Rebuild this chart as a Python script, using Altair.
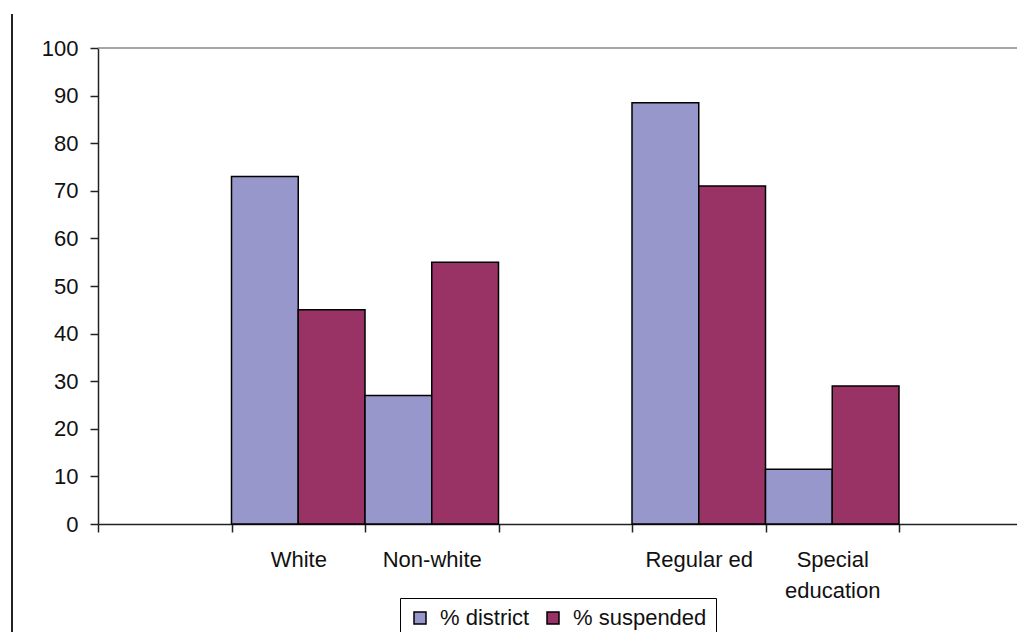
import altair as alt
import pandas as pd

# ---- data ----
categories = ["White", "Non-white", "Regular ed", "Special education"]
pct_district = [73, 27, 88.5, 11.5]
pct_suspended = [45, 55, 71, 29]
axis_domain = ["_gap1", "White", "Non-white", "_gap2", "Regular ed", "Special education", "_gap3"]
series = ["% district", "% suspended"]
colors = ["#9797CB", "#993366"]
y_ticks = list(range(0, 101, 10))

rows = []
for c, d, s in zip(categories, pct_district, pct_suspended):
    rows.append({"category": c, "series": series[0], "value": d})
    rows.append({"category": c, "series": series[1], "value": s})
df = pd.DataFrame(rows)

FONT = "Liberation Sans"
FS = 22

label_expr = ("indexof(datum.label, '_') == 0 ? '' : "
              "(datum.label == 'Special education' ? ['Special', 'education'] : datum.label)")

bars = alt.Chart(df).mark_bar(stroke="black", strokeWidth=1.5).encode(
    x=alt.X(
        "category:N",
        sort=axis_domain,
        scale=alt.Scale(domain=axis_domain, range=[0, 934.5], paddingInner=0, paddingOuter=0),
        axis=alt.Axis(
            title=None, labelAngle=0, labelExpr=label_expr, tickBand="extent",
            domainColor="#222222", domainWidth=1.5, tickColor="#222222", tickWidth=1.5,
            tickSize=8, labelPadding=17, labelFont=FONT, labelFontSize=FS,
            labelColor="#111111", labelLineHeight=31, grid=False,
        ),
    ),
    xOffset=alt.XOffset(
        "series:N", sort=series,
        scale=alt.Scale(domain=series, paddingInner=0, paddingOuter=0),
    ),
    y=alt.Y(
        "value:Q",
        scale=alt.Scale(domain=[0, 100], nice=False),
        axis=alt.Axis(
            title=None, values=y_ticks, grid=False,
            domainColor="#222222", domainWidth=1.5, tickColor="#222222", tickWidth=1.5,
            tickSize=8, labelPadding=12, labelFont=FONT, labelFontSize=FS,
            labelColor="#111111",
        ),
    ),
    color=alt.Color(
        "series:N",
        scale=alt.Scale(domain=series, range=colors),
        legend=alt.Legend(
            title=None, orient="none", legendX=302, legendY=550, direction="horizontal",
            strokeColor="black", fillColor="white", padding=9,
            symbolType="square", symbolSize=144, symbolStrokeColor="black",
            symbolStrokeWidth=1.5, symbolOpacity=1,
            labelFont=FONT, labelFontSize=FS, labelColor="#111111",
            labelOffset=9, columnPadding=12,
        ),
    ),
)

one = pd.DataFrame({"v": [0]})

top_line = alt.Chart(one).mark_rule(color="#8a8a8a", strokeWidth=1.5).encode(
    y=alt.datum(100)
)

left_border = alt.Chart(one).mark_rule(color="#222222", strokeWidth=2).encode(
    x=alt.value(-86), y=alt.value(-34), y2=alt.value(620)
)

chart = alt.layer(bars, top_line, left_border).properties(
    width=919,
    height=476,
    autosize=alt.AutoSizeParams(type="none"),
    padding={"left": 90, "top": 40, "right": 0, "bottom": 108},
    background="white",
).configure_view(stroke=None)

chart.save("out.html", embed_options={"renderer": "svg", "actions": False})
